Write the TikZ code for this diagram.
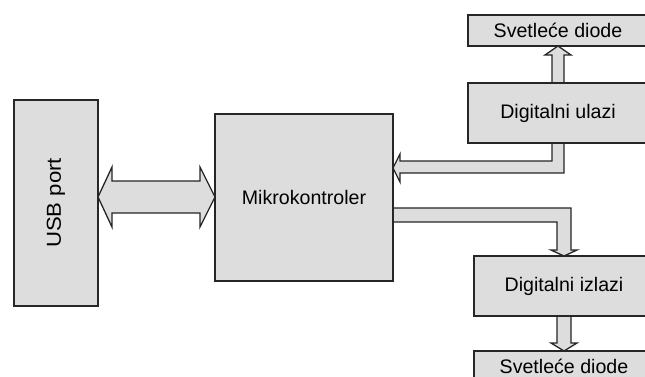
\documentclass[tikz,border=0pt]{standalone}
\usepackage{fontspec}
\setmainfont{Liberation Sans}
\definecolor{boxfill}{HTML}{DDDDDD}
\definecolor{edge}{HTML}{262626}
\begin{document}
\begin{tikzpicture}[x=1pt,y=-1pt,
  box/.style={draw=edge,fill=boxfill,line width=1.3pt,rectangle,inner sep=0pt,
    font=\fontsize{19.6}{23}\selectfont},
  barrow/.style={draw=edge,fill=boxfill,line width=1.3pt,line join=miter}]
\useasboundingbox (0,0) rectangle (645,376);
\clip (0,0) rectangle (645,376);
\fill[white] (0,0) rectangle (645,376);
% block arrows
\draw[barrow] (98,197) -- (112,167) -- (112,181) -- (200,181) -- (200,167) -- (215,197)
  -- (200,227) -- (200,213) -- (112,213) -- (112,227) -- cycle;
\draw[barrow] (552,143) -- (552,161) -- (400,161) -- (400,154) -- (393,168) -- (400,182)
  -- (400,173) -- (564,173) -- (564,143) -- cycle;
\draw[barrow] (552,83) -- (552,55) -- (545,55) -- (558,46) -- (571,55) -- (564,55) -- (564,83) -- cycle;
\draw[barrow] (393,208) -- (571,208) -- (571,250) -- (577,250) -- (564,256) -- (551,250)
  -- (557,250) -- (557,222) -- (393,222) -- cycle;
\draw[barrow] (557,316) -- (557,343) -- (551,343) -- (564,351) -- (577,343) -- (571,343) -- (571,316) -- cycle;
% boxes
\node[box,minimum width=84pt,minimum height=206pt] (usb) at (56,203) {\rotatebox{90}{\scalebox{1.13}[1.03]{USB port}}};
\node[box,minimum width=178pt,minimum height=167pt] (mcu) at (304,197.5) {Mikrokontroler};
\node[box,minimum width=180pt,minimum height=31pt] (led1) at (558,30.5) {Svetleće diode};
\node[box,minimum width=180pt,minimum height=60pt] (din) at (558,113) {Digitalni ulazi};
\node[box,minimum width=180pt,minimum height=60pt] (dout) at (564,286) {Digitalni izlazi};
\node[box,minimum width=180pt,minimum height=30pt] (led2) at (564,366) {Svetleće diode};
\end{tikzpicture}
\end{document}
